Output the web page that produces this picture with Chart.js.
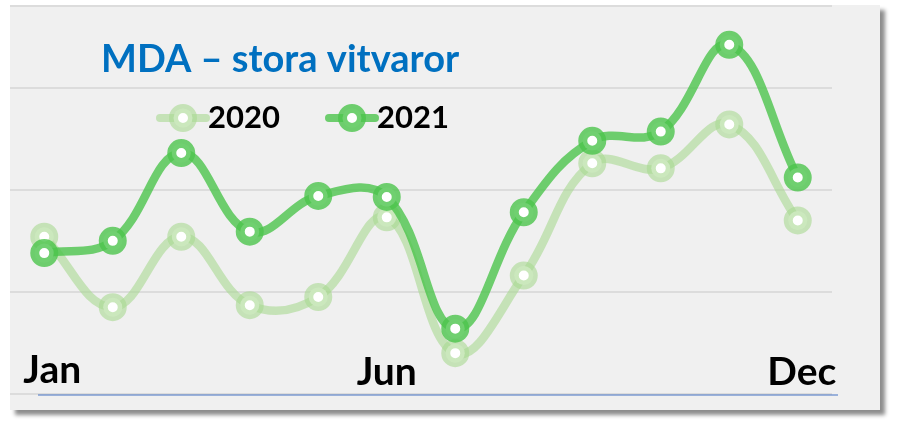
<!DOCTYPE html>
<html>
<head>
<meta charset="utf-8">
<script src="https://cdn.jsdelivr.net/npm/chart.js@4"></script>
<style>
    body { margin: 0; background: #ffffff; }
    #panel {
        position: absolute; left: 10px; top: 5px; width: 870px; height: 405px;
        background: #f0f0f0;
        box-shadow: 5px 5px 4px rgba(0, 0, 0, 0.45);
    }
    #myChart { position: absolute; left: 0; top: 0; }
</style>
</head>
<body>
<div id="panel"></div>
<canvas id="myChart" width="906" height="424"></canvas>
<script>
const title = "MDA \u2013 stora vitvaror";
const months = ["Jan", "Feb", "Mar", "Apr", "May", "Jun", "Jul", "Aug", "Sep", "Oct", "Nov", "Dec"];
const shownMonths = ["Jan", "Jun", "Dec"];
const sales2020 = [15.4, 8.5, 15.4, 8.7, 9.5, 17.3, 4.0, 11.6, 22.6, 22.1, 26.4, 17.0];
const sales2021 = [13.8, 15.0, 23.6, 15.9, 19.4, 19.3, 6.4, 17.8, 24.8, 25.7, 34.2, 21.2];

const color2020 = "rgba(168, 217, 145, 0.6)";
const color2021 = "rgba(76, 196, 76, 0.8)";
const fontName = "Lato";

let chart;

// legend, title and month labels drawn by hand, Excel style
const decorations = {
    id: 'decorations',
    afterDatasetsDraw(c)
    {
        const ctx = c.ctx;
        const xScale = c.scales.x;
        ctx.save();

        // axis line
        ctx.strokeStyle = "#4472c4";
        ctx.lineWidth = 1.2;
        ctx.beginPath();
        ctx.moveTo(38, 395);
        ctx.lineTo(838, 395);
        ctx.stroke();

        // title
        ctx.fillStyle = "#0070c0";
        ctx.font = "bold 38px " + fontName;
        ctx.textAlign = "left";
        ctx.textBaseline = "alphabetic";
        ctx.fillText(title, 101, 72);

        // legend
        const items = [
            { ds: c.data.datasets[1], x: 160 },
            { ds: c.data.datasets[0], x: 329 }
        ];
        items.forEach(item =>
        {
            const ds = item.ds;
            ctx.strokeStyle = ds.borderColor;
            ctx.lineWidth = 8;
            ctx.lineCap = "round";
            ctx.beginPath();
            ctx.moveTo(item.x, 118);
            ctx.lineTo(item.x + 46, 118);
            ctx.stroke();
            ctx.fillStyle = "#ffffff";
            ctx.beginPath();
            ctx.arc(item.x + 23, 118, ds.pointRadius, 0, Math.PI * 2);
            ctx.fill();
            ctx.lineWidth = ds.pointBorderWidth;
            ctx.stroke();
            ctx.fillStyle = "#000000";
            ctx.font = "bold 31px " + fontName;
            ctx.fillText(ds.label, item.x + 48, 128);
        });

        // month labels
        ctx.fillStyle = "#000000";
        ctx.font = "bold 39px " + fontName;
        ctx.textAlign = "center";
        shownMonths.forEach(m =>
        {
            const i = months.indexOf(m);
            let x = xScale.getPixelForValue(i);
            if (i === 0) x += 8;
            if (i === months.length - 1) x += 4;
            ctx.fillText(m, x, i === 0 ? 383 : 385);
        });
        ctx.restore();
    }
};

function InitializeChart()
{
    chart = new Chart(document.getElementById("myChart"), {
        type: 'line',
        data: {
            labels: months,
            datasets: [
                {
                    label: "2021",
                    data: sales2021,
                    borderColor: color2021,
                    pointBorderColor: color2021,
                    pointBackgroundColor: "#ffffff",
                    borderWidth: 8.5,
                    pointRadius: 9.5,
                    pointBorderWidth: 9,
                    tension: 0.4,
                    order: 0
                },
                {
                    label: "2020",
                    data: sales2020,
                    borderColor: color2020,
                    pointBorderColor: color2020,
                    pointBackgroundColor: "#ffffff",
                    borderWidth: 8.5,
                    pointRadius: 9.5,
                    pointBorderWidth: 9,
                    tension: 0.4,
                    order: 1
                }
            ]
        },
        options: {
            responsive: false,
            animation: false,
            devicePixelRatio: 1,
            layout: {
                autoPadding: false,
                padding: { left: 10, right: 74, top: 6, bottom: 30 }
            },
            plugins: {
                legend: { display: false },
                tooltip: { enabled: false }
            },
            scales: {
                x: {
                    display: false,
                    offset: true
                },
                y: {
                    min: 0,
                    max: 38,
                    ticks: {
                        display: false,
                        stepSize: 10
                    },
                    border: { display: false },
                    grid: {
                        color: "#dcdcdc",
                        lineWidth: 2,
                        drawTicks: false
                    }
                }
            }
        },
        plugins: [decorations]
    });
}

InitializeChart();
</script>
</body>
</html>
